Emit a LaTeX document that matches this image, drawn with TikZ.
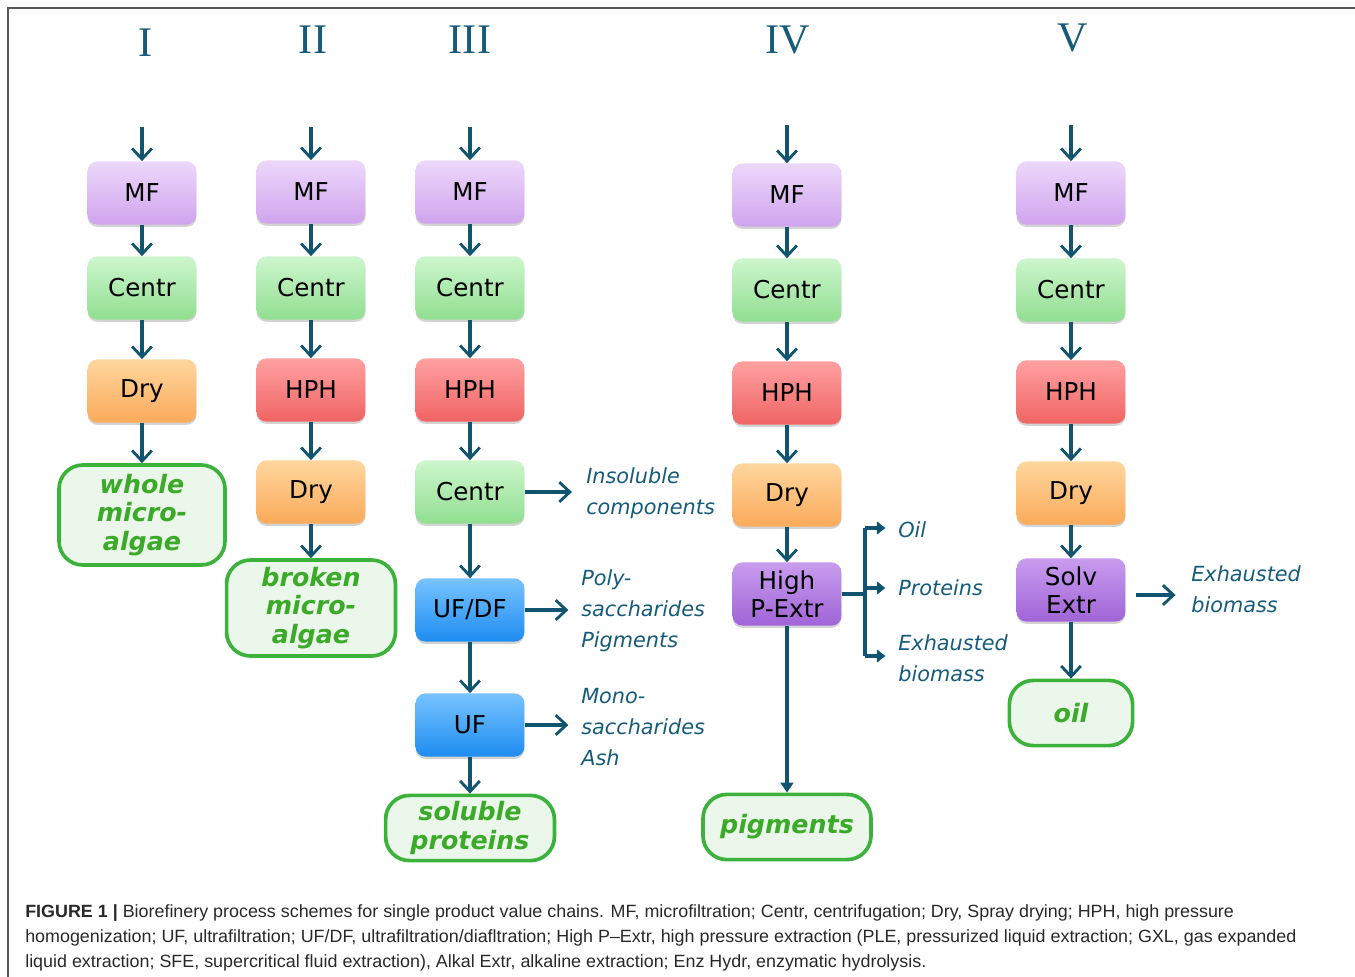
\documentclass[tikz,border=0pt]{standalone}
\usepackage{fontspec}
\usepackage{tikz}
\usetikzlibrary{arrows.meta, calc, positioning, shadows}
\usepackage{xcolor}
\newfontfamily\boxfont{DejaVu Sans}
\newfontfamily\headfont{Liberation Serif}
\newfontfamily\capfont[FakeStretch=1.01]{Liberation Sans}
\definecolor{flowteal}{RGB}{16, 84, 112}
\definecolor{labteal}{RGB}{22, 92, 122}
\definecolor{mftop}{RGB}{236, 216, 250}
\definecolor{mfbot}{RGB}{208, 164, 238}
\definecolor{centop}{RGB}{205, 246, 205}
\definecolor{cenbot}{RGB}{145, 222, 145}
\definecolor{drytop}{RGB}{255, 214, 158}
\definecolor{drybot}{RGB}{250, 170, 90}
\definecolor{hphtop}{RGB}{255, 160, 160}
\definecolor{hphbot}{RGB}{240, 100, 100}
\definecolor{uftop}{RGB}{120, 195, 255}
\definecolor{ufbot}{RGB}{30, 140, 240}
\definecolor{extop}{RGB}{200, 156, 238}
\definecolor{exbot}{RGB}{160, 100, 215}
\definecolor{outgreen}{RGB}{60, 178, 60}
\definecolor{outfill}{RGB}{234, 247, 234}
\definecolor{outtext}{RGB}{58, 170, 40}
\definecolor{captext}{RGB}{40, 40, 40}
\tikzset{
  procbox/.style={rounded corners=7pt, minimum width=2.72cm, minimum height=1.58cm,
    inner sep=2pt, align=center, font=\boxfont\fontsize{17.5}{20}\selectfont,
    drop shadow={shadow xshift=0pt, shadow yshift=-1.6pt, opacity=0.35}},
  mfbox/.style={procbox, top color=mftop, bottom color=mfbot},
  cenbox/.style={procbox, top color=centop, bottom color=cenbot},
  drybox/.style={procbox, top color=drytop, bottom color=drybot},
  hphbox/.style={procbox, top color=hphtop, bottom color=hphbot},
  ufbox/.style={procbox, top color=uftop, bottom color=ufbot},
  exbox/.style={procbox, top color=extop, bottom color=exbot},
  outbox/.style={draw=outgreen, line width=2.6pt, fill=outfill, rounded corners=17pt,
    align=center, text=outtext, inner sep=2pt,
    font=\boxfont\bfseries\itshape\fontsize{18}{20.5}\selectfont},
  sidelabel/.style={anchor=west, align=left, text=labteal, inner sep=0pt,
    font=\boxfont\itshape\fontsize{14.8}{22}\selectfont},
  colhead/.style={text=labteal, font=\headfont\fontsize{30}{30}\selectfont},
  flow/.style={flowteal, line width=2.2pt,
    -{Straight Barb[length=7.5pt, width=14pt, line width=2pt]}},
  branch/.style={flowteal, line width=2.2pt, -{Triangle[length=6pt, width=9pt]}}
}

\begin{document}
\begin{tikzpicture}[x=0.025cm, y=-0.025cm]
  \useasboundingbox (0,0) rectangle (1355,976);
  % frame
  \draw[black!65, line width=1pt] (8,990) -- (8,8) -- (1365,8);

  % column headings
  \node[colhead] (hI)   at (146,43) {I};
  \node[colhead] (hII)  at (313,40) {II};
  \node[colhead] (hIII) at (470,40) {III};
  \node[colhead] (hIV)  at (788,40) {IV};
  \node[colhead] (hV)   at (1073,38) {V};

  % column I
  \coordinate (in1) at (142,127);
  \node[mfbox]  (mf1)  at (142,193) {MF};
  \node[cenbox] (cen1) at (142,288) {Centr};
  \node[drybox] (dry1) at (142,391) {Dry};
  \node[outbox, minimum width=4.15cm, minimum height=2.5cm] (whole) at (142,515)
    {whole\\micro-\\algae};
  \draw[flow] (in1) -- (mf1);
  \draw[flow] (mf1) -- (cen1);
  \draw[flow] (cen1) -- (dry1);
  \draw[flow] (dry1) -- (whole);

  % column II
  \coordinate (in2) at (311,127);
  \node[mfbox]  (mf2)  at (311,192) {MF};
  \node[cenbox] (cen2) at (311,288) {Centr};
  \node[hphbox] (hph2) at (311,390) {HPH};
  \node[drybox] (dry2) at (311,492) {Dry};
  \node[outbox, minimum width=4.22cm, minimum height=2.4cm] (broken) at (311,608)
    {broken\\micro-\\algae};
  \draw[flow] (in2) -- (mf2);
  \draw[flow] (mf2) -- (cen2);
  \draw[flow] (cen2) -- (hph2);
  \draw[flow] (hph2) -- (dry2);
  \draw[flow] (dry2) -- (broken);

  % column III
  \coordinate (in3) at (470,127);
  \node[mfbox]  (mf3)   at (470,192) {MF};
  \node[cenbox] (cen3)  at (470,288) {Centr};
  \node[hphbox] (hph3)  at (470,390) {HPH};
  \node[cenbox] (cen3b) at (470,492) {Centr};
  \node[ufbox]  (ufdf)  at (470,610) {UF/DF};
  \node[ufbox]  (uf)    at (470,725) {UF};
  \node[outbox, minimum width=4.22cm, minimum height=1.63cm] (solprot) at (470,828)
    {soluble\\proteins};
  \draw[flow] (in3) -- (mf3);
  \draw[flow] (mf3) -- (cen3);
  \draw[flow] (cen3) -- (hph3);
  \draw[flow] (hph3) -- (cen3b);
  \draw[flow] (cen3b) -- (ufdf);
  \draw[flow] (ufdf) -- (uf);
  \draw[flow] (uf) -- (solprot);
  \node[sidelabel] (insol) at (586,493) {Insoluble\\components};
  \node[sidelabel] (polys) at (581,611) {Poly-\\saccharides\\Pigments};
  \node[sidelabel] (monos) at (581,727) {Mono-\\saccharides\\Ash};
  \draw[flow, shorten >=10pt] (cen3b.east) -- (cen3b.east -| insol.west);
  \draw[flow, shorten >=9pt] (ufdf.east) -- (ufdf.east -| polys.west);
  \draw[flow, shorten >=9pt] (uf.east) -- (uf.east -| monos.west);

  % column IV
  \coordinate (in4) at (787,125);
  \node[mfbox]  (mf4)  at (787,195) {MF};
  \node[cenbox] (cen4) at (787,290) {Centr};
  \node[hphbox] (hph4) at (787,393) {HPH};
  \node[drybox] (dry4) at (787,495) {Dry};
  \node[exbox]  (hpe)  at (787,594) {High\\P-Extr};
  \node[outbox, minimum width=4.2cm, minimum height=1.63cm] (pigm) at (787,827)
    {pigments};
  \draw[flow] (in4) -- (mf4);
  \draw[flow] (mf4) -- (cen4);
  \draw[flow] (cen4) -- (hph4);
  \draw[flow] (hph4) -- (dry4);
  \draw[flow] (dry4) -- (hpe);
  \draw[flowteal, line width=2.2pt, -{Triangle[length=7pt, width=9pt]}] (hpe) -- (pigm);
  \node[sidelabel] (oil4)  at (898,530) {Oil};
  \node[sidelabel] (prot4) at (898,588) {Proteins};
  \node[sidelabel] (exh4)  at (898,658) {Exhausted\\biomass};
  \coordinate (brmid) at (865,594);
  \coordinate (brtop) at (865,528);
  \coordinate (brbot) at (865,656);
  \draw[flowteal, line width=2.2pt] (hpe.east) -- (brmid);
  \draw[flowteal, line width=2.2pt] (brtop) -- (brbot);
  \draw[branch, shorten >=9pt] (brtop) -- (brtop -| oil4.west);
  \draw[branch, shorten >=9pt] (brtop |- prot4.west) -- (prot4.west);
  \draw[branch, shorten >=9pt] (brbot) -- (brbot -| exh4.west);

  % column V
  \coordinate (in5) at (1071,125);
  \node[mfbox]  (mf5)  at (1071,193) {MF};
  \node[cenbox] (cen5) at (1071,290) {Centr};
  \node[hphbox] (hph5) at (1071,392) {HPH};
  \node[drybox] (dry5) at (1071,493) {Dry};
  \node[exbox]  (solv) at (1071,590) {Solv\\Extr};
  \node[outbox, minimum width=3.08cm, minimum height=1.63cm] (oil5) at (1071,713)
    {oil};
  \draw[flow] (in5) -- (mf5);
  \draw[flow] (mf5) -- (cen5);
  \draw[flow] (cen5) -- (hph5);
  \draw[flow] (hph5) -- (dry5);
  \draw[flow] (dry5) -- (solv);
  \draw[flow] (solv) -- (oil5);
  \node[sidelabel] (exh5) at (1191,589) {Exhausted\\biomass};
  \draw[flow, shorten <=7pt, shorten >=11pt] (solv.east |- 0,595) -- (exh5.west |- 0,595);

  % caption
  \node[anchor=base west, inner sep=0pt, text=captext, font=\capfont\fontsize{12.6}{15}\selectfont]
    (cap1) at (25,917) {\textbf{FIGURE 1 |} Biorefinery process schemes for single product value chains. MF, microfiltration; Centr, centrifugation; Dry, Spray drying; HPH, high pressure};
  \node[anchor=base west, inner sep=0pt, text=captext, font=\capfont\fontsize{12.6}{15}\selectfont]
    (cap2) at (25,942) {homogenization; UF, ultrafiltration; UF/DF, ultrafiltration/diafltration; High P–Extr, high pressure extraction (PLE, pressurized liquid extraction; GXL, gas expanded};
  \node[anchor=base west, inner sep=0pt, text=captext, font=\capfont\fontsize{12.6}{15}\selectfont]
    (cap3) at (25,967) {liquid extraction; SFE, supercritical fluid extraction), Alkal Extr, alkaline extraction; Enz Hydr, enzymatic hydrolysis.};
\end{tikzpicture}
\end{document}
